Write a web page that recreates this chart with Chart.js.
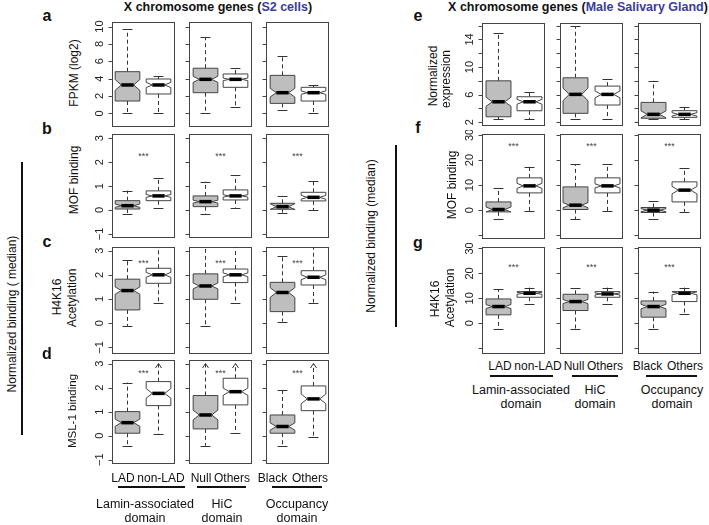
<!DOCTYPE html>
<html>
<head>
<meta charset="utf-8">
<script src="https://cdn.jsdelivr.net/npm/chart.js@4.4.0/dist/chart.umd.min.js"></script>
<style>
  body { margin: 0; background: #fff; }
  #fig { position: relative; width: 709px; height: 525px; overflow: hidden;
         font-family: "Liberation Sans", Arial, sans-serif; color: #111; }
  .t { position: absolute; white-space: nowrap; transform: translate(-50%, -50%); line-height: 1; }
  .rot { transform: translate(-50%, -50%) rotate(-90deg); }
  .bar { position: absolute; background: #111; }
  canvas { position: absolute; }
</style>
</head>
<body>
<div id="fig"></div>
<script>
// box stats: [min, q1, median, q3, max, notch half-width]
const groupNames = ['LAD', 'non-LAD', 'Null', 'Others', 'Black', 'Others'];
const domainNames = [['Lamin-associated', 'domain'], ['HiC', 'domain'], ['Occupancy', 'domain']];
const stars = ['***', '***', '***'];

// S2 cells
const s2Fpkm = [[0, 1.42, 3.27, 4.8, 9.7, 0.62], [0, 2.23, 3.27, 3.96, 4.3, 0.3],
                [0, 2.38, 3.92, 5.2, 8.77, 0.35], [0.77, 3.0, 3.92, 4.54, 5.2, 0.15],
                [0.38, 1.15, 2.38, 4.38, 6.65, 0.5], [0, 1.42, 2.38, 3.0, 3.27, 0.2]];
const s2Mof = [[-0.18, 0.04, 0.18, 0.39, 0.81, 0.07], [0.1, 0.39, 0.59, 0.8, 1.32, 0.06],
               [-0.18, 0.14, 0.35, 0.59, 1.19, 0.06], [0.1, 0.42, 0.59, 0.84, 1.46, 0.05],
               [-0.11, 0.03, 0.14, 0.28, 0.59, 0.12], [0, 0.38, 0.53, 0.74, 1.21, 0.08]];
const s2H4k16 = [[-0.11, 0.55, 1.35, 1.82, 2.61, 0.15], [0.85, 1.65, 2.0, 2.27, 3.6, 0.1],
                 [-0.11, 0.99, 1.54, 2.04, 3.6, 0.12], [0.85, 1.68, 2.0, 2.24, 3.6, 0.08],
                 [0.07, 0.48, 1.27, 1.69, 2.78, 0.2], [0.85, 1.58, 1.9, 2.17, 3.6, 0.1]];
const s2Msl1 = [[-0.42, 0.1, 0.54, 1.0, 2.21, 0.15], [0.07, 1.25, 1.76, 2.25, 4.0, 0.2],
                [-0.42, 0.28, 0.86, 1.67, 4.0, 0.2], [0.1, 1.28, 1.83, 2.39, 4.0, 0.15],
                [-0.42, 0.1, 0.38, 0.86, 1.9, 0.15], [-0.04, 1.04, 1.53, 2.07, 4.0, 0.2]];

// Male salivary gland
const sgExpr = [[2.45, 2.8, 4.97, 8.0, 14.9, 0.65], [2.48, 3.67, 4.97, 5.7, 6.4, 0.35],
                [2.48, 3.3, 6.04, 8.44, 15.9, 0.9], [2.48, 4.5, 6.04, 7.24, 8.25, 0.5],
                [2.48, 2.58, 3.15, 4.88, 8.0, 0.5], [2.48, 2.72, 3.15, 3.68, 4.16, 0.25]];
const sgMof = [[-3.7, -0.67, 0.27, 3.3, 8.9, 1.0], [-0.27, 6.9, 9.7, 12.9, 17.3, 1.0],
               [-3.6, 0.27, 2.0, 9.3, 18.4, 1.0], [-0.4, 6.9, 9.7, 12.9, 18.3, 0.8],
               [-3.7, -0.93, 0, 1.07, 3.7, 0.6], [-0.67, 3.3, 8.0, 11.3, 16.7, 1.5]];
const sgH4k16 = [[-2.4, 3.33, 6.67, 9.73, 13.6, 0.8], [7.6, 10.4, 12, 12.67, 14.27, 0.4],
                 [-2.4, 5.07, 8.67, 11.6, 14.27, 0.8], [7.6, 10.4, 11.73, 12.67, 14.27, 0.4],
                 [-2.4, 2.4, 6.67, 8.93, 12.67, 0.9], [3.6, 8.67, 12, 12.67, 14.27, 0.6]];

// ticks
const fpkmTicks = [0, 2, 4, 6, 8, 10];
const fpkmTickLabels = ['0', '2', '4', '6', '8', '10'];
const bindTicks = [-1, 0, 1, 2, 3];
const bindTickLabels = ['\u22121', '0', '1', '2', '3'];
const exprTicks = [2, 4, 6, 8, 10, 12, 14, 16];
const exprTickLabels = ['2', '', '6', '', '10', '', '14', ''];
const sgTicks = [-10, 0, 10, 20, 30];
const sgTickLabels = ['', '0', '10', '20', '30'];

// layout
const PADL = 30, PADR = 4, PADT = 4, PADB = 4;
const xPos = i => Math.floor(i / 2) * 2.5 + (i % 2) + 1;

const panels = [
  { boxes: s2Fpkm, ticks: fpkmTicks, tickLabels: fpkmTickLabels, ymin: -1.46, ymax: 10.53, x: 112, w: 216, y: 22, h: 104 },
  { boxes: s2Mof, ticks: bindTicks, tickLabels: bindTickLabels, ymin: -1.13, ymax: 3.18, x: 112, w: 216, y: 134, h: 103, sigY: 2.23 },
  { boxes: s2H4k16, ticks: bindTicks, tickLabels: bindTickLabels, ymin: -1.23, ymax: 3.15, x: 112, w: 216, y: 247, h: 106, sigY: 2.48 },
  { boxes: s2Msl1, ticks: bindTicks, tickLabels: bindTickLabels, ymin: -1.14, ymax: 3.15, x: 112, w: 216, y: 360, h: 103, sigY: 2.6, arrows: true },
  { boxes: sgExpr, ticks: exprTicks, tickLabels: exprTickLabels, ymin: 1.61, ymax: 16.37, x: 482, w: 218, y: 23, h: 102 },
  { boxes: sgMof, ticks: sgTicks, tickLabels: sgTickLabels, ymin: -11.1, ymax: 30.4, x: 482, w: 218, y: 134, h: 104, sigY: 25.3 },
  { boxes: sgH4k16, ticks: sgTicks, tickLabels: sgTickLabels, ymin: -12, ymax: 30.6, x: 482, w: 218, y: 247, h: 106, sigY: 22.4 }
];

const fig = document.getElementById('fig');

function line(ctx, x1, y1, x2, y2) {
  ctx.beginPath(); ctx.moveTo(x1, y1); ctx.lineTo(x2, y2); ctx.stroke();
}

const boxPlugin = {
  id: 'boxplot',
  afterDraw(chart, args, opts) {
    const p = opts.panel;
    const ctx = chart.ctx, xs = chart.scales.x, ys = chart.scales.y, area = chart.chartArea;
    const unit = xs.getPixelForValue(1) - xs.getPixelForValue(0);
    const Y = v => ys.getPixelForValue(v);
    ctx.save();
    const t = Math.round(area.top) + 0.5, b = Math.round(area.bottom) + 0.5;
    for (let c = 0; c < 3; c++) {
      const l = Math.round(xs.getPixelForValue(c * 2.5 + 0.5)) + 0.5;
      const r = Math.round(xs.getPixelForValue(c * 2.5 + 2.5)) + 0.5;
      ctx.strokeStyle = '#444'; ctx.lineWidth = 1; ctx.setLineDash([]);
      ctx.strokeRect(l, t, r - l, b - t);
      p.ticks.forEach((v, k) => {
        const y = Math.round(Y(v)) + 0.5;
        line(ctx, l - 4, y, l, y);
        if (c === 0 && p.tickLabels[k]) {
          ctx.save();
          ctx.translate(l - 7, Y(v));
          ctx.rotate(-Math.PI / 2);
          ctx.fillStyle = '#222';
          ctx.font = '11px "Liberation Sans", Arial';
          ctx.textAlign = 'center'; ctx.textBaseline = 'bottom';
          ctx.fillText(p.tickLabels[k], 0, 0);
          ctx.restore();
        }
      });
      if (p.sigY !== undefined) {
        ctx.fillStyle = '#444';
        ctx.font = '9px "Liberation Sans", Arial';
        ctx.textAlign = 'center'; ctx.textBaseline = 'middle';
        ctx.fillText(stars[c], (l + r) / 2, Y(p.sigY));
      }
    }

    ctx.beginPath();
    ctx.rect(area.left, area.top, area.right - area.left, area.bottom - area.top);
    ctx.clip();
    p.boxes.forEach((bx, i) => {
      const [mn, q1, md, q3, mx, nh] = bx;
      const cx = Math.round(xs.getPixelForValue(xPos(i))) + 0.5;
      const hw = unit * 0.4, cw = hw * 0.4;
      const off = p.arrows && mx > ys.max;
      ctx.strokeStyle = '#333'; ctx.lineWidth = 1;
      ctx.setLineDash([4, 3]);
      line(ctx, cx, Y(q3), cx, off ? area.top + 4 : Y(mx));
      line(ctx, cx, Y(q1), cx, Y(mn));
      ctx.setLineDash([]);
      if (off) {
        ctx.beginPath();
        ctx.moveTo(cx - 3, area.top + 8); ctx.lineTo(cx, area.top + 3.5); ctx.lineTo(cx + 3, area.top + 8);
        ctx.stroke();
      } else {
        line(ctx, cx - cw, Math.round(Y(mx)) + 0.5, cx + cw, Math.round(Y(mx)) + 0.5);
      }
      line(ctx, cx - cw, Math.round(Y(mn)) + 0.5, cx + cw, Math.round(Y(mn)) + 0.5);

      const xl = cx - hw, xr = cx + hw, xnl = cx - hw * 0.5, xnr = cx + hw * 0.5;
      ctx.beginPath();
      ctx.moveTo(xl, Y(q1)); ctx.lineTo(xl, Y(md - nh)); ctx.lineTo(xnl, Y(md));
      ctx.lineTo(xl, Y(md + nh)); ctx.lineTo(xl, Y(q3)); ctx.lineTo(xr, Y(q3));
      ctx.lineTo(xr, Y(md + nh)); ctx.lineTo(xnr, Y(md)); ctx.lineTo(xr, Y(md - nh));
      ctx.lineTo(xr, Y(q1)); ctx.closePath();
      ctx.fillStyle = i % 2 === 0 ? '#bebebe' : '#ffffff';
      ctx.fill();
      ctx.strokeStyle = '#444';
      ctx.stroke();

      ctx.strokeStyle = '#000'; ctx.lineWidth = 3.5;
      line(ctx, xnl, Y(md), xnr, Y(md));
    });
    ctx.restore();
  }
};

panels.forEach(p => {
  const cv = document.createElement('canvas');
  const W = p.w + PADL + PADR, H = p.h + PADT + PADB;
  cv.width = W; cv.height = H;
  cv.style.width = W + 'px'; cv.style.height = H + 'px';
  cv.style.left = (p.x - PADL) + 'px'; cv.style.top = (p.y - PADT) + 'px';
  fig.appendChild(cv);
  new Chart(cv, {
    type: 'scatter',
    data: { datasets: [{ data: p.boxes.map((b, i) => ({ x: xPos(i), y: b[2] })), pointRadius: 0 }] },
    options: {
      responsive: false, animation: false, events: [],
      layout: { padding: { left: PADL, right: PADR, top: PADT, bottom: PADB } },
      plugins: { legend: { display: false }, tooltip: { enabled: false }, boxplot: { panel: p } },
      scales: {
        x: { type: 'linear', display: false, min: 0.5, max: 7.5 },
        y: { display: false, min: p.ymin, max: p.ymax }
      }
    },
    plugins: [boxPlugin]
  });
});

// text
function label(html, x, y, css, rot) {
  const d = document.createElement('div');
  d.className = 't' + (rot ? ' rot' : '');
  d.innerHTML = html;
  d.style.left = x + 'px'; d.style.top = y + 'px';
  Object.assign(d.style, css || {});
  fig.appendChild(d);
}
function bar(x, y, w, h) {
  const d = document.createElement('div');
  d.className = 'bar';
  Object.assign(d.style, { left: x + 'px', top: y + 'px', width: w + 'px', height: h + 'px' });
  fig.appendChild(d);
}

const titleCss = { fontWeight: 'bold', fontSize: '12.5px' };
label('X chromosome genes (<span style="color:#3b3b9e">S2 cells</span>)', 218, 7, titleCss);
label('X chromosome genes (<span style="color:#3b3b9e">Male Salivary Gland</span>)', 578, 7, titleCss);

const letterCss = { fontWeight: 'bold', fontSize: '16px' };
[['a', 47, 16], ['b', 47, 129], ['c', 47, 242], ['d', 47, 354],
 ['e', 418, 16], ['f', 418, 128], ['g', 418, 243]].forEach(l => label(l[0], l[1], l[2], letterCss));

const axCss = { fontSize: '12px' };
label('FPKM (log2)', 74, 73, axCss, true);
label('MOF binding', 74, 180, axCss, true);
label('H4K16', 57, 297, axCss, true);
label('Acetylation', 72, 298, axCss, true);
label('MSL-1 binding', 73, 411, { fontSize: '11.5px' }, true);
label('Normalized binding ( median)', 12, 314, axCss, true);
bar(21, 162, 2, 273);

label('Normalized', 433, 76, axCss, true);
label('expression', 446, 79, axCss, true);
label('MOF binding', 452, 185, axCss, true);
label('H4K16', 435, 299, axCss, true);
label('Acetylation', 450, 298, axCss, true);
label('Normalized binding (median)', 371, 236, axCss, true);
bar(395, 145, 2, 182);

// category labels under bottom panels
const catCss = { fontSize: '12px' };
const grpCss = { fontSize: '12.5px' };
const blocks = [
  { cx: [123, 161, 201, 232, 272.5, 310], y: 478, line: [[118, 185], [197, 246], [272, 322]], ly: 486, gx: [145, 222, 297], gy: 504 },
  { cx: [500, 538, 574, 605, 647.5, 685], y: 366, line: [[490, 553], [572, 618], [646, 697]], ly: 375, gx: [521, 595, 672], gy: 390 }
];
blocks.forEach(bk => {
  groupNames.forEach((g, i) => label(g, bk.cx[i], bk.y, catCss));
  bk.line.forEach(s => bar(s[0], bk.ly, s[1] - s[0], 2));
  domainNames.forEach((d, i) => {
    label(d[0], bk.gx[i], bk.gy, grpCss);
    label(d[1], bk.gx[i], bk.gy + 13.5, grpCss);
  });
});
</script>
</body>
</html>
